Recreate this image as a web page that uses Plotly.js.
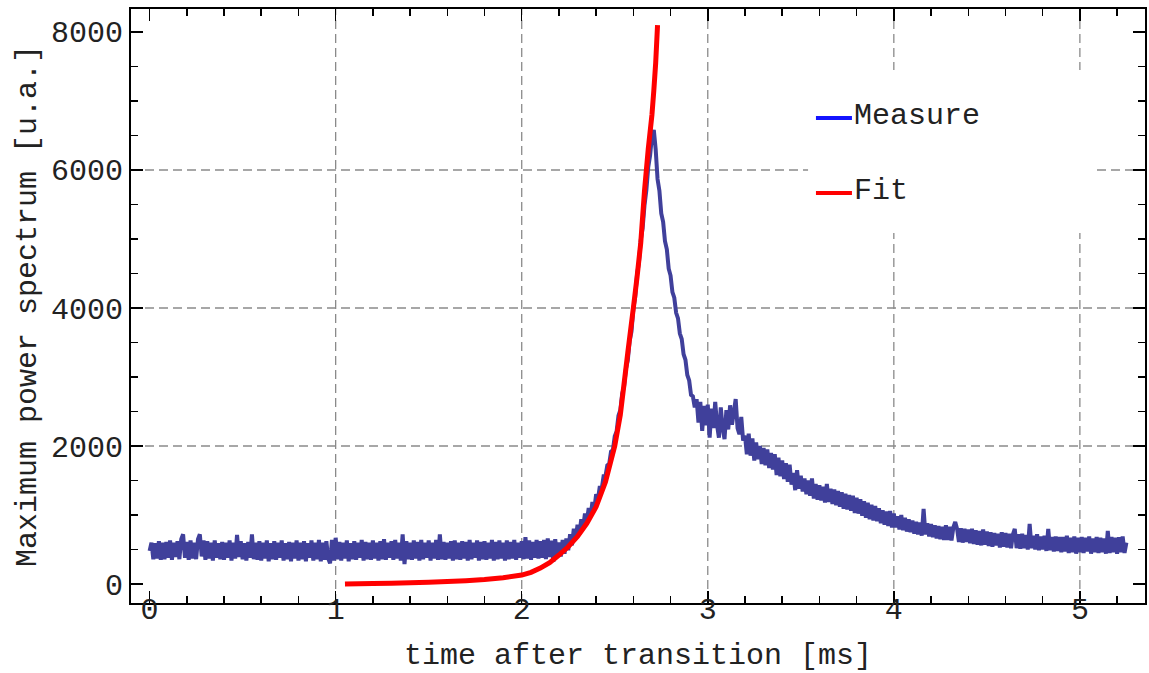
<!DOCTYPE html>
<html><head><meta charset="utf-8">
<script src="https://cdn.plot.ly/plotly-3.0.1.min.js"></script>
<style>html,body{margin:0;padding:0;background:#fff}#chart{width:1149px;height:673px}</style>
</head><body><div id="chart"></div>
<script>
// ---- data ----
const measureStart = 0;      // ms
const measureStep = 0.01;    // ms between samples
const measureValues = [
480,600,360,590,370,620,350,600,360,610,
380,630,350,600,390,620,360,650,720,380,
610,350,630,370,600,360,650,720,400,630,
350,620,370,600,340,630,380,590,360,610,
350,600,380,630,340,600,370,710,390,620,
360,590,340,610,380,720,360,600,350,620,
340,600,370,630,330,590,360,620,350,600,
380,630,340,590,360,610,330,600,370,630,
340,600,360,620,330,590,380,630,340,600,
360,640,330,600,350,620,370,300,640,340,
670,360,610,340,600,370,630,330,590,360,
620,350,600,380,640,340,610,360,600,350,
630,370,600,340,620,360,650,350,600,380,
620,350,640,370,600,340,720,290,620,360,
600,350,630,370,610,340,640,360,600,380,
630,340,600,370,640,350,720,360,610,350,
600,370,620,340,630,360,600,350,620,370,
610,340,640,360,600,380,630,340,610,360,
620,350,600,370,640,340,610,360,630,370,
600,340,630,360,610,370,640,350,600,380,
620,360,680,370,630,350,610,380,640,370,
620,380,640,360,660,390,630,320,650,420,
600,400,640,440,660,490,720,560,800,660,
860,720,940,820,1020,910,1100,980,1190,1080,
1300,1230,1420,1380,1560,1560,1720,1740,1920,1940,
2140,2210,2440,2520,2760,2860,3120,3240,3520,3660,
3990,4160,4490,4660,4990,5160,5490,5710,6040,6210,
6490,6580,6300,5870,5700,5370,5250,4970,4850,4570,
4470,4230,4150,3930,3850,3630,3550,3330,3250,3030,
2950,2740,2720,2560,2680,2340,2640,2220,2580,2300,
2600,2120,2540,2260,2640,2300,2120,2560,2260,2100,
2520,2240,2590,2310,2490,2680,2260,2170,2420,2080,
2150,1880,2180,1860,2110,1790,2050,1810,2000,1740,
1970,1720,1950,1680,1900,1660,1880,1580,1830,1560,
1790,1520,1750,1480,1730,1440,1610,1360,1650,1380,
1570,1340,1530,1300,1500,1280,1530,1240,1450,1220,
1430,1210,1410,1180,1450,1190,1380,1160,1370,1140,
1350,1120,1330,1090,1310,1080,1290,1060,1280,1030,
1250,1020,1230,990,1200,960,1180,940,1150,920,
1130,910,1100,880,1070,860,1050,840,1060,820,
1020,820,980,790,1000,780,960,760,940,750,
920,730,900,720,890,700,1090,720,880,690,
870,680,850,660,840,650,830,640,850,640,
830,630,820,900,800,610,810,600,800,610,
790,590,800,580,780,570,770,560,790,570,
760,550,750,540,740,560,730,530,750,540,
740,530,730,520,720,800,520,720,510,730,
520,710,500,870,520,700,500,720,490,690,
500,700,480,800,490,680,470,690,480,680,
460,680,470,700,450,670,460,690,440,670,
460,680,450,670,470,690,440,660,460,680,
450,670,460,660,440,770,450,680,460,670,
440,680,460,690,450,600
];
const fitTimes  = [1.05,1.2,1.3,1.4,1.5,1.6,1.7,1.8,1.9,2.0,2.05,2.1,2.15,2.2,2.25,2.3,2.35,2.4,2.45,2.5,2.53,2.55,2.57,2.6,2.62,2.64,2.66,2.68,2.7,2.71,2.72,2.73];
const fitValues = [0,8,12,18,25,35,48,65,90,130,170,230,310,420,540,690,880,1120,1480,2000,2450,2900,3350,4000,4450,4950,5700,6300,6800,7150,7550,8100];
const xTickVals = [0,1,2,3,4,5];
const yTickVals = [0,2000,4000,6000,8000];
const xGridVals = [1,2,3,4,5];
const yGridVals = [2000,4000,6000];
const legendLabels = ['Measure','Fit'];
const legendColors = ['#1414ff','#ff0000'];

// ---- chart ----
const FONT = 'Liberation Mono, Courier New, monospace';
const traces = [
  {type:'scatter', mode:'lines', name:legendLabels[0], x0:measureStart, dx:measureStep, y:measureValues,
   line:{color:'rgb(64,64,155)', width:4, simplify:false}, showlegend:false, hoverinfo:'x+y'},
  {type:'scatter', mode:'lines', name:legendLabels[1], x:fitTimes, y:fitValues,
   line:{color:'#ff0000', width:5, simplify:false}, showlegend:false, hoverinfo:'x+y'}
];

const shapes = [];
xGridVals.forEach(v => shapes.push({type:'line', layer:'below', xref:'x', yref:'paper', x0:v, x1:v, y0:0, y1:1,
  line:{color:'#8a8a8a', width:1.3, dash:'9px,5px'}}));
yGridVals.forEach(v => shapes.push({type:'line', layer:'below', xref:'paper', yref:'y', x0:0, x1:1, y0:v, y1:v,
  line:{color:'#8a8a8a', width:1.3, dash:'9px,5px'}}));
// legend box (white, hides grid)
shapes.push({type:'rect', layer:'below', xref:'paper', yref:'paper', x0:0.6677, x1:0.9507, y0:0.6229, y1:0.8973,
  line:{width:0}, fillcolor:'#ffffff'});
const legY = [0.8165, 0.6902];
legendLabels.forEach((lab,i) => shapes.push({type:'line', layer:'above', xref:'paper', yref:'paper',
  x0:0.6755, x1:0.7110, y0:legY[i], y1:legY[i], line:{color:legendColors[i], width:4}}));

const annotations = legendLabels.map((lab,i) => ({xref:'paper', yref:'paper', x:0.7110, y:legY[i]+0.004,
  xanchor:'left', yanchor:'middle', text:lab, showarrow:false, font:{family:FONT, size:30, color:'#222'}}));

const axisCommon = {
  showline:true, linecolor:'#000', linewidth:2, mirror:'allticks',
  ticks:'inside', ticklen:12, tickwidth:1.5, tickcolor:'#000',
  showgrid:false, zeroline:false,
  tickfont:{family:FONT, size:30, color:'#222'},
};

const layout = {
  width:1149, height:673,
  margin:{l:131, r:4, t:9, b:70, pad:0},
  paper_bgcolor:'#fff', plot_bgcolor:'#fff',
  font:{family:FONT, size:30, color:'#222'},
  showlegend:false,
  xaxis: Object.assign({}, axisCommon, {
    range:[-0.1, 5.35], tickmode:'array', tickvals:xTickVals, ticktext:xTickVals.map(String),
    ticklabelstandoff:-22,
    minor:{tickmode:'linear', tick0:0, dtick:0.2, ticks:'inside', ticklen:7, tickwidth:1.5, tickcolor:'#000', showgrid:false},
    title:{text:'time after transition [ms]', font:{family:FONT, size:30, color:'#222'}, standoff:36}
  }),
  yaxis: Object.assign({}, axisCommon, {
    range:[-275, 8333], tickmode:'array', tickvals:yTickVals, ticktext:yTickVals.map(String),
    minor:{tickmode:'linear', tick0:0, dtick:500, ticks:'inside', ticklen:7, tickwidth:1.5, tickcolor:'#000', showgrid:false},
    title:{text:'Maximum power spectrum [u.a.]', font:{family:FONT, size:30, color:'#222'}, standoff:5}
  }),
  shapes, annotations
};
Plotly.newPlot('chart', traces, layout, {displayModeBar:false, staticPlot:true});
</script>
</body></html>
